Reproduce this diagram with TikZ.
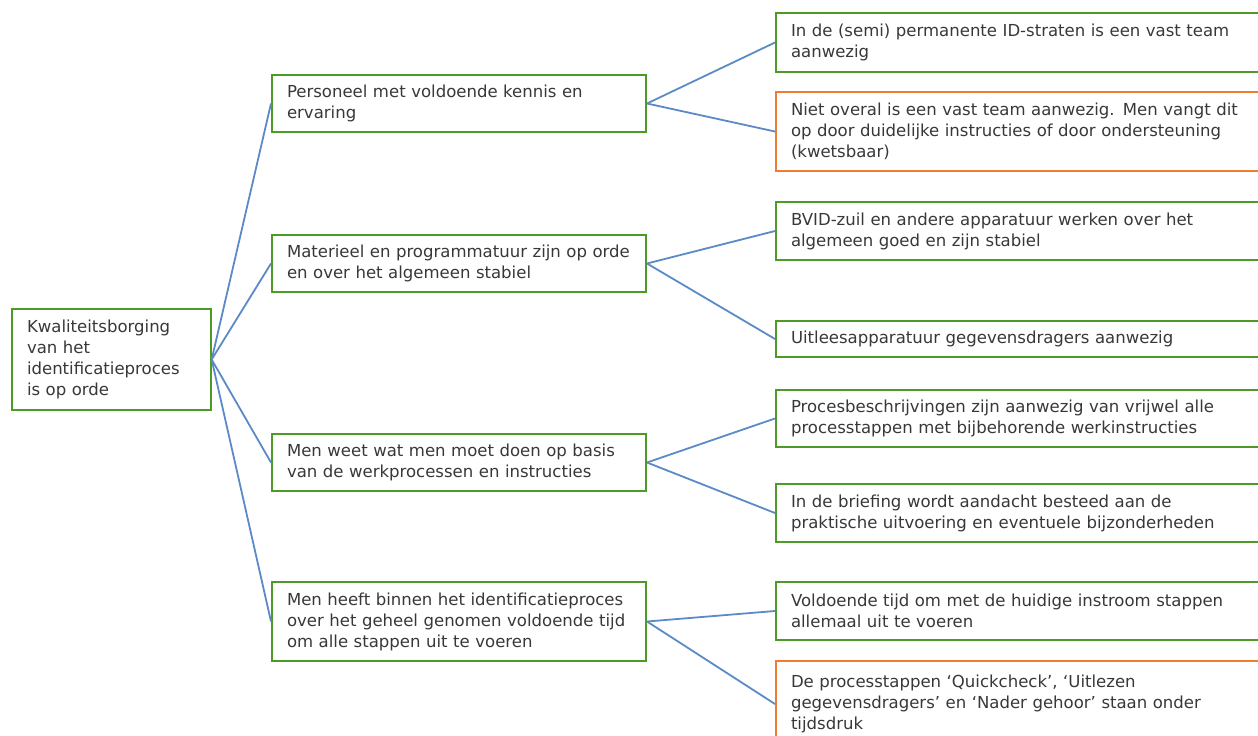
\documentclass[tikz,border=0pt]{standalone}
\usepackage{fontspec}
\setmainfont{DejaVu Sans}
\definecolor{bgreen}{RGB}{78,154,38}
\definecolor{borange}{RGB}{237,125,49}
\definecolor{lblue}{RGB}{91,138,198}
\begin{document}
\begin{tikzpicture}[x=0.75pt,y=-0.75pt,
  box/.style={draw=bgreen,line width=1.5pt,anchor=north west,align=left,
    inner xsep=11.25pt,inner ysep=0pt,font=\fontsize{12.4pt}{15.75pt}\selectfont,text=black!78},
  warn/.style={box,draw=borange},
  conn/.style={draw=lblue,line width=1.35pt}]
\useasboundingbox (0,0) rectangle (1258,736);
% root
\node[box,minimum width=149pt,minimum height=75.75pt,text width=126.5pt] (root) at (11,308)
  {Kwaliteitsborging\\van het\\identificatieproces\\is op orde};
% middle
\node[box,minimum width=280.5pt,minimum height=42.75pt,text width=258pt] (m1) at (271,74)
  {Personeel met voldoende kennis en\\ervaring};
\node[box,minimum width=280.5pt,minimum height=42.75pt,text width=258pt] (m2) at (271,234)
  {Materieel en programmatuur zijn op orde\\en over het algemeen stabiel};
\node[box,minimum width=280.5pt,minimum height=42.75pt,text width=258pt] (m3) at (271,433)
  {Men weet wat men moet doen op basis\\van de werkprocessen en instructies};
\node[box,minimum width=280.5pt,minimum height=59.25pt,text width=258pt] (m4) at (271,581)
  {Men heeft binnen het identificatieproces\\over het geheel genomen voldoende tijd\\om alle stappen uit te voeren};
% right
\node[box,minimum width=362.25pt,minimum height=44.25pt,text width=339.75pt] (r1) at (775,12)
  {In de (semi) permanente ID-straten is een vast team\\aanwezig};
\node[warn,minimum width=362.25pt,minimum height=59.25pt,text width=339.75pt] (r2) at (775,91)
  {Niet overal is een vast team aanwezig. Men vangt dit\\op door duidelijke instructies of door ondersteuning\\(kwetsbaar)};
\node[box,minimum width=362.25pt,minimum height=43.5pt,text width=339.75pt] (r3) at (775,201)
  {BVID-zuil en andere apparatuur werken over het\\algemeen goed en zijn stabiel};
\node[box,minimum width=362.25pt,minimum height=27pt,text width=339.75pt] (r4) at (775,320)
  {Uitleesapparatuur gegevensdragers aanwezig};
\node[box,minimum width=362.25pt,minimum height=42.75pt,text width=339.75pt] (r5) at (775,389)
  {Procesbeschrijvingen zijn aanwezig van vrijwel alle\\processtappen met bijbehorende werkinstructies};
\node[box,minimum width=362.25pt,minimum height=43.5pt,text width=339.75pt] (r6) at (775,483)
  {In de briefing wordt aandacht besteed aan de\\praktische uitvoering en eventuele bijzonderheden};
\node[box,minimum width=362.25pt,minimum height=43.5pt,text width=339.75pt] (r7) at (775,581)
  {Voldoende tijd om met de huidige instroom stappen\\allemaal uit te voeren};
\node[warn,minimum width=362.25pt,minimum height=64.5pt,text width=339.75pt] (r8) at (775,660)
  {De processtappen ‘Quickcheck’, ‘Uitlezen\\gegevensdragers’ en ‘Nader gehoor’ staan onder\\tijdsdruk};
% connectors
\foreach \m in {m1,m2,m3,m4} \draw[conn] (root.east) -- (\m.west);
\draw[conn] (m1.east) -- (r1.west);
\draw[conn] (m1.east) -- (r2.west);
\draw[conn] (m2.east) -- (r3.west);
\draw[conn] (m2.east) -- (r4.west);
\draw[conn] (m3.east) -- (r5.west);
\draw[conn] (m3.east) -- (r6.west);
\draw[conn] (m4.east) -- (r7.west);
\draw[conn] (m4.east) -- (r8.west);
\end{tikzpicture}
\end{document}
